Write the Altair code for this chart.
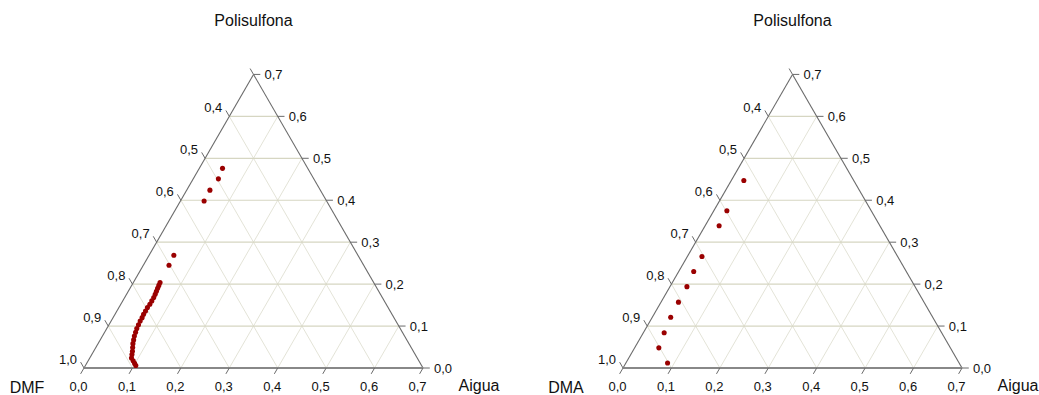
import altair as alt
import pandas as pd

# ---------------- data (ternary fractions) ----------------
# Panel 1: DMF / Polisulfona / Aigua
dmf_polisulfona = [0.476, 0.451, 0.424, 0.398, 0.269, 0.245,
                   0.204, 0.197, 0.190, 0.183, 0.176, 0.168, 0.160, 0.152,
                   0.144, 0.136, 0.128, 0.120, 0.112, 0.103, 0.094, 0.085,
                   0.076, 0.067, 0.058, 0.049, 0.040, 0.032, 0.024, 0.017,
                   0.011, 0.006]
dmf_aigua = [0.048, 0.052, 0.048, 0.049, 0.051, 0.053,
             0.055, 0.056, 0.057, 0.058, 0.059, 0.060, 0.060, 0.060,
             0.059, 0.059, 0.059, 0.060, 0.060, 0.061, 0.062, 0.064,
             0.066, 0.069, 0.072, 0.076, 0.080, 0.083, 0.086, 0.093,
             0.099, 0.104]

# Panel 2: DMA / Polisulfona / Aigua
dma_polisulfona = [0.447, 0.375, 0.339, 0.266, 0.230, 0.194, 0.157,
                   0.121, 0.084, 0.048, 0.012]
dma_aigua = [0.026, 0.027, 0.029, 0.030, 0.031, 0.035, 0.036,
             0.038, 0.043, 0.050, 0.086]

tick_values = [0.0, 0.1, 0.2, 0.3, 0.4, 0.5, 0.6, 0.7]
tick_labels = ["0,0", "0,1", "0,2", "0,3", "0,4", "0,5", "0,6", "0,7"]
solvent_tick_labels = ["1,0", "0,9", "0,8", "0,7", "0,6", "0,5", "0,4"]
grid_values = [0.1, 0.2, 0.3, 0.4, 0.5, 0.6]
SIDE = 0.7          # length of the triangle side in fraction units
TICK = 0.014        # tick extension in fraction units

# ---------------- geometry helpers ----------------
PANEL_H = 395
PX_X = 484.3                      # pixels per unit along x
PX_Y = PX_X * 0.8660254           # pixels per unit of polymer (equilateral)
VERTEX_PX = 84                    # left vertex offset in each panel
BASE_PX = 368
TXT = "#111111"


def xscale(width):
    return alt.Scale(domain=[-VERTEX_PX / PX_X, (width - VERTEX_PX) / PX_X],
                     nice=False, zero=False)


def yscale():
    return alt.Scale(domain=[-(PANEL_H - BASE_PX) / PX_Y, BASE_PX / PX_Y],
                     nice=False, zero=False)


def segs(rows):
    return pd.DataFrame(rows, columns=["w1", "p1", "w2", "p2"])


def rule_layer(df, width, color, size):
    return alt.Chart(df).transform_calculate(
        x1="datum.w1 + datum.p1 / 2", x2="datum.w2 + datum.p2 / 2"
    ).mark_rule(color=color, strokeWidth=size).encode(
        x=alt.X("x1:Q", scale=xscale(width), axis=None),
        x2="x2:Q",
        y=alt.Y("p1:Q", scale=yscale(), axis=None),
        y2="p2:Q",
    )


def text_layer(df, width, **kw):
    return alt.Chart(df).transform_calculate(
        x="datum.w + datum.p / 2"
    ).mark_text(font="Liberation Sans", **kw).encode(
        x=alt.X("x:Q", scale=xscale(width), axis=None),
        y=alt.Y("p:Q", scale=yscale(), axis=None),
        text="label:N",
    )


def panel(solvent, pol, wat, width):
    horiz = segs([[0, v, SIDE - v, v] for v in grid_values])
    diag = segs([[v, 0, v, SIDE - v] for v in grid_values] +
                [[v, 0, 0, v] for v in grid_values])
    bottom = segs([[0, 0, SIDE, 0]])
    sides = segs([[SIDE, 0, 0, SIDE], [0, SIDE, 0, 0]])
    ticks = segs([[v, 0, v, -TICK] for v in tick_values] +
                 [[SIDE - v, v, SIDE - v + TICK, v] for v in tick_values] +
                 [[0, v, -TICK, v + TICK] for v in tick_values])

    bottom_lab = pd.DataFrame({"w": tick_values, "p": [0] * 8, "label": tick_labels})
    right_lab = pd.DataFrame({"w": [SIDE - v for v in tick_values],
                              "p": tick_values, "label": tick_labels})
    left_lab = pd.DataFrame({"w": [0] * 7, "p": tick_values[:7],
                             "label": solvent_tick_labels})

    pts = pd.DataFrame({"w": wat, "p": pol})
    points = alt.Chart(pts).transform_calculate(
        x="datum.w + datum.p / 2"
    ).mark_point(filled=True, color="#9a0000", size=26, opacity=1).encode(
        x=alt.X("x:Q", scale=xscale(width), axis=None),
        y=alt.Y("p:Q", scale=yscale(), axis=None),
    )

    lab_style = dict(fontSize=13, color=TXT)
    layers = [
        rule_layer(diag, width, "#dcdccd", 0.8),
        rule_layer(horiz, width, "#d6d6c2", 1.2),
        rule_layer(sides, width, "#6a6a6a", 1.1),
        rule_layer(bottom, width, "#888888", 2),
        rule_layer(ticks, width, "#6a6a6a", 1),
        text_layer(bottom_lab, width, align="center", baseline="alphabetic",
                   dx=-5.5, dy=23, **lab_style),
        text_layer(right_lab, width, align="left", baseline="alphabetic",
                   dx=11, dy=4.6, **lab_style),
        text_layer(left_lab, width, align="right", baseline="alphabetic",
                   dx=-7, dy=-4, **lab_style),
        text_layer(pd.DataFrame({"w": [0], "p": [SIDE], "label": ["Polisulfona"]}),
                   width, align="center", baseline="alphabetic", dy=-48,
                   fontSize=16, color=TXT),
        text_layer(pd.DataFrame({"w": [0], "p": [0], "label": [solvent]}),
                   width, align="center", baseline="alphabetic", dx=-57, dy=24.5,
                   fontSize=16, color=TXT),
        text_layer(pd.DataFrame({"w": [SIDE], "p": [0], "label": ["Aigua"]}),
                   width, align="center", baseline="alphabetic", dx=56, dy=23,
                   fontSize=16, color=TXT),
        points,
    ]
    return alt.layer(*layers).properties(width=width, height=PANEL_H)


chart = alt.hconcat(
    panel("DMF", dmf_polisulfona, dmf_aigua, 539),
    panel("DMA", dma_polisulfona, dma_aigua, 500),
    spacing=0,
).properties(padding=0, background="white").configure_view(stroke=None)

chart.save("out.html", embed_options={"renderer": "svg", "actions": False})
